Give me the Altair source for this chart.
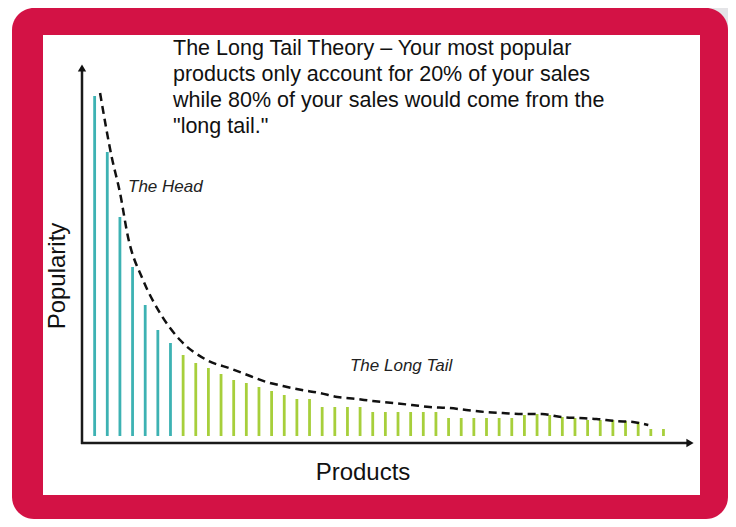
import altair as alt
import pandas as pd

# ---- data ----
products = list(range(1, 47))
popularity = [346, 290, 225, 175, 137, 112, 99,
              87, 79, 74, 68, 62, 59, 55, 51, 47, 43, 43, 35, 35, 35, 35, 30,
              30, 30, 30, 30, 30, 24, 24, 24, 24, 24, 24,
              27, 28, 27, 25, 24, 22, 22, 22, 21, 20, 13, 13]
segment = ["The Head"] * 7 + ["The Long Tail"] * 39

curve_rank = [1.43, 2.35, 3.01, 3.64, 4.83, 6.17, 7.76, 9.87, 11.85, 13.3, 14.6,
              15.9, 17.4, 18.8, 20.2, 21.7, 23.0, 24.6, 26.1, 27.5, 29.0, 30.4,
              31.9, 33.3, 34.8, 36.4, 37.9, 39.3, 40.7, 42.2, 43.6, 44.8]
curve_value = [349, 285, 249, 205, 162, 129, 102, 82, 73, 66, 60,
               56, 52, 49, 45, 43, 41, 39, 37, 35, 34, 32,
               30, 29, 28, 28, 25, 24, 23, 21, 20, 17]

title_lines = ["The Long Tail Theory \u2013 Your most popular",
               "products only account for 20% of your sales",
               "while 80% of your sales would come from the",
               "\"long tail.\""]
ann_text = ["The Head", "The Long Tail"]
ann_rank = [3.64, 21.2]
ann_value = [255, 76]

bars = pd.DataFrame({"product": products, "popularity": popularity, "segment": segment})
curve = pd.DataFrame({"rank": curve_rank, "value": curve_value})
ann = pd.DataFrame({"text": ann_text, "rank": ann_rank, "value": ann_value})
one = pd.DataFrame({"k": [0]})

RED = "#D31245"
TEAL = "#3DB2B3"
GREEN = "#A7CF3B"
FONT = "Liberation Sans"

xs = alt.Scale(domain=[0, 48.1], range=[74, 682], nice=False, zero=False)
ys = alt.Scale(domain=[0, 372], range=[434, 62], nice=False, zero=False)

base1 = alt.Chart(one)

gray_dark = base1.mark_rect(color="#b3b3b3").encode(
    x=alt.value(609), x2=alt.value(628), y=alt.value(0), y2=alt.value(40))
gray_light = base1.mark_rect(color="#e4e4e7").encode(
    x=alt.value(628), x2=alt.value(720), y=alt.value(0), y2=alt.value(40))
red = base1.mark_rect(color=RED, cornerRadius=22).encode(
    x=alt.value(4), x2=alt.value(720), y=alt.value(0), y2=alt.value(511))
white = base1.mark_rect(color="white").encode(
    x=alt.value(35), x2=alt.value(692), y=alt.value(27), y2=alt.value(487))

bar_layer = alt.Chart(bars).mark_rule(strokeWidth=2.8).encode(
    x=alt.X("product:Q", scale=xs, axis=None),
    y=alt.Y("popularity:Q", scale=ys, axis=None),
    y2=alt.datum(6),
    color=alt.Color("segment:N", scale=alt.Scale(domain=["The Head", "The Long Tail"],
                                                 range=[TEAL, GREEN]), legend=None),
)

curve_layer = alt.Chart(curve).mark_line(
    color="#111", strokeWidth=2.5, strokeDash=[8, 5], interpolate="monotone"
).encode(
    x=alt.X("rank:Q", scale=xs, axis=None),
    y=alt.Y("value:Q", scale=ys, axis=None),
)

ann_layer = alt.Chart(ann).mark_text(
    align="left", baseline="middle", fontSize=17, fontStyle="italic", font=FONT, color="#222"
).encode(
    x=alt.X("rank:Q", scale=xs, axis=None),
    y=alt.Y("value:Q", scale=ys, axis=None),
    text="text:N",
)

y_axis = base1.mark_rule(color="#1a1a1a", strokeWidth=2.5).encode(
    x=alt.value(74), y=alt.value(63), y2=alt.value(436))
x_axis = base1.mark_rule(color="#1a1a1a", strokeWidth=2.5).encode(
    x=alt.value(73), x2=alt.value(680), y=alt.value(435))
y_arrow = base1.mark_point(shape="triangle-up", filled=True, color="#111", size=70, opacity=1).encode(
    x=alt.value(74), y=alt.value(60))
x_arrow = base1.mark_point(shape="triangle-right", filled=True, color="#111", size=70, opacity=1).encode(
    x=alt.value(682), y=alt.value(435))

title_layer = base1.mark_text(
    align="left", baseline="alphabetic", fontSize=21.5, lineHeight=26, font=FONT, color="#111"
).encode(x=alt.value(165), y=alt.value(47), text=alt.value(title_lines))

x_label = base1.mark_text(
    align="center", baseline="middle", fontSize=24, font=FONT, color="#111"
).encode(x=alt.value(355), y=alt.value(465), text=alt.value("Products"))

y_label = base1.mark_text(
    align="center", baseline="middle", fontSize=24, font=FONT, color="#111", angle=270
).encode(x=alt.value(50), y=alt.value(268), text=alt.value("Popularity"))

chart = alt.layer(
    gray_dark, gray_light, red, white, bar_layer, curve_layer, ann_layer,
    y_axis, x_axis, y_arrow, x_arrow, title_layer, x_label, y_label
).properties(
    width=720, height=511, padding=0, autosize=alt.AutoSizeParams(type="none"),
    background="white"
).configure_view(stroke=None)

chart.save("out.html", embed_options={"renderer": "svg", "actions": False})
